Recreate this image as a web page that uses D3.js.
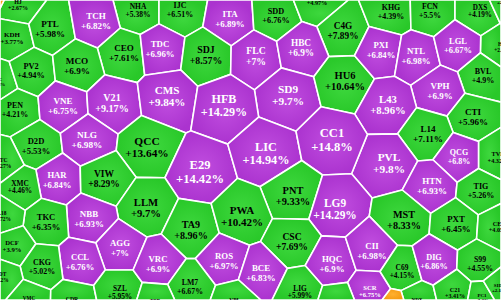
<!DOCTYPE html>
<html>
<head>
<meta charset="utf-8">
<script src="https://cdn.jsdelivr.net/npm/d3@7"></script>
<style>
  html, body { margin: 0; padding: 0; background: #fff; }
  svg { display: block; }
  .cell__text { font-family: "Liberation Serif", "DejaVu Serif", serif; font-weight: bold; }
</style>
</head>
<body>
<div id="chart"></div>
<script>
// tickers, % change and board status (c = ceiling, u = up, r = reference)
const codes = ['HJ', 'TNI', 'NHA', 'IJC', 'ITA', 'SDD', 'HDG', 'C4G', 'KHG', 'FCN', 'DXS', 'HID',
  'KDH', 'PTL', 'TCH', 'CEO', 'VPC', 'PV2', 'MCO', 'TDC', 'SDJ', 'FLC', 'HBC', 'SD9', 'HU6',
  'PXI', 'NTL', 'LGL', 'BVL', 'VPH', 'PEN', 'VNE', 'V21', 'CMS', 'HFB', 'L43', 'CTI', 'L14',
  'TVB', 'QCG', 'PVL', 'HTN', 'TIG', 'D2D', 'NLG', 'QCC', 'E29', 'LIC', 'CC1', 'STC', 'HAR',
  'VIW', 'XMC', 'PNT', 'LG9', 'MST', 'PXT', 'CET', 'LLM', 'TA9', 'PWA', 'NBB', 'TKC', 'L18',
  'DCF', 'AGG', 'CCL', 'CKG', 'SDT', 'VMC', 'CDR', 'SZL', 'VRC', 'ROS', 'LM7', 'CSC', 'BCE',
  'HQC', 'LIG', 'VPI', 'CII', 'SCR', 'C69', 'DIG', 'S99', 'NDX', 'C21', 'PC1', 'DLG', 'SHN',
  'TTB', 'OGC', 'VC7']
const changes = [2.67, 0, 5.38, 6.51, 6.89, 6.76, 4.97, 7.89, 4.39, 5.5, 4.19, 2.86,
  3.77, 5.98, 6.82, 7.61, 3.64, 4.94, 6.9, 6.96, 8.57, 7, 6.9, 9.7, 10.64,
  6.84, 6.98, 6.67, 4.9, 6.9, 4.21, 6.75, 9.17, 9.84, 14.29, 8.96, 5.96, 7.11,
  4.32, 6.8, 9.8, 6.93, 5.26, 5.53, 6.98, 13.64, 14.42, 14.94, 14.8, 3.27, 6.84,
  8.29, 4.46, 9.33, 14.29, 8.33, 6.45, 4.05, 9.7, 8.96, 10.42, 6.93, 6.35, 4.72,
  3.9, 7, 6.76, 5.02, 4.2, 4.8, 5.5, 5.95, 6.9, 6.97, 6.67, 7.69, 6.83,
  6.9, 5.99, 5.8, 6.98, 6.75, 4.15, 6.86, 4.55, 5, 3.41, 3.2, 0, 2.1,
  5.1, 5.2, 2.4]
const status = ['u', 'r', 'u', 'u', 'c', 'u', 'u', 'u', 'u', 'u', 'u', 'u',
  'u', 'u', 'c', 'u', 'u', 'u', 'u', 'c', 'u', 'c', 'c', 'c', 'u',
  'c', 'c', 'c', 'u', 'c', 'u', 'c', 'c', 'c', 'c', 'c', 'u', 'u',
  'u', 'c', 'c', 'c', 'u', 'u', 'c', 'u', 'c', 'c', 'c', 'u', 'c',
  'u', 'u', 'u', 'c', 'u', 'u', 'u', 'u', 'u', 'u', 'c', 'u', 'u',
  'u', 'c', 'c', 'u', 'u', 'u', 'u', 'u', 'c', 'c', 'u', 'u', 'c',
  'c', 'u', 'u', 'c', 'c', 'u', 'c', 'u', 'u', 'u', 'u', 'r', 'u',
  'u', 'u', 'u']

// voronoi seeds (501 x 300)
const seedX = [18, -8, 138, 180, 230, 276, 317, 343, 391, 430, 480, 503,
  12, 50, 96, 124, -3, 31, 77, 160, 206, 256, 301, 288, 345,
  381, 416, 458, 483, 440, 15, 63, 112, 167, 224, 388, 473, 428,
  498, 459, 389, 432, 481, 36, 87, 147, 200, 266, 332, 2, 57,
  104, 20, 293, 335, 404, 456, 499, 146, 191, 242, 89, 46, 2,
  12, 120, 80, 42, 1, 29, 72, 120, 158, 224, 190, 292, 261,
  332, 300, 234, 372, 370, 402, 434, 480, 417, 455, 482, 394, 499,
  155, 337, 504]
const seedY = [5, -8, 10, 10, 19, 16, 0, 31, 12, 11, 11, 47,
  38, 29, 21, 53, 82, 71, 66, 49, 55, 56, 48, 95, 81,
  50, 56, 46, 76, 91, 110, 106, 103, 96, 105, 105, 117, 134,
  157, 157, 163, 186, 191, 146, 140, 147, 172, 153, 140, 163, 180,
  179, 187, 196, 209, 220, 224, 227, 208, 230, 216, 219, 222, 216,
  246, 248, 262, 267, 277, 301, 302, 292, 264, 261, 287, 242, 273,
  264, 292, 303, 251, 291, 271, 262, 264, 302, 293, 298, 309, 288,
  303, 304, 0]

const width = 501
const height = 300
const fills = { c: 'url(#grad-c)', u: 'url(#grad-u)', r: 'url(#grad-r)' }
const inks = { c: '#fff', u: '#000', r: '#000' }

const svg = d3.select('#chart')
  .append('svg')
  .attr('width', width)
  .attr('height', height)

const defs = svg.append('defs')
const grads = { c: ['#c04ddf', '#ab33cf'], u: ['#3ed83e', '#29c829'], r: ['#ffb030', '#f59a10'] }
Object.keys(grads).forEach(k => {
  const g = defs.append('radialGradient').attr('id', `grad-${k}`)
  g.append('stop').attr('offset', '0%').attr('stop-color', grads[k][0])
  g.append('stop').attr('offset', '100%').attr('stop-color', grads[k][1])
})

const x = d3.scaleLinear().domain([0, 501]).range([0, width])
const y = d3.scaleLinear().domain([0, 300]).range([0, height])

const data = codes.map((code, i) => ({
  code, change: changes[i], status: status[i], sx: x(seedX[i]), sy: y(seedY[i])
}))

const voronoi = d3.Delaunay.from(data, d => d.sx, d => d.sy).voronoi([0, 0, width, height])
data.forEach((d, i) => {
  d.poly = voronoi.cellPolygon(i)
  d.area = d.poly ? Math.abs(d3.polygonArea(d.poly)) : 0
  d.size = Math.max(5, Math.min(13.5, Math.sqrt(d.area) * 0.21))
})

const cells = data.filter(d => d.poly)

svg.append('g')
  .selectAll('path')
  .data(cells)
  .enter()
  .append('path')
  .attr('d', d => 'M' + d.poly.join('L') + 'Z')
  .style('fill', d => fills[d.status])
  .style('stroke', '#fff')
  .style('stroke-width', 1.6)
  .style('stroke-linejoin', 'round')

const label = svg.append('g')
  .selectAll('text')
  .data(cells.filter(d => d.area > 120))
  .enter()
  .append('text')
  .attr('class', 'cell__text')
  .attr('text-anchor', 'middle')
  .attr('x', d => d.sx)
  .attr('y', d => d.sy)
  .style('font-size', d => `${d.size}px`)
  .style('fill', d => inks[d.status])
label.append('tspan')
  .attr('x', d => d.sx)
  .attr('dy', '-0.2em')
  .text(d => d.code)
label.append('tspan')
  .attr('x', d => d.sx)
  .attr('dy', '1.08em')
  .text(d => `+${d.change}%`)
</script>
</body>
</html>
